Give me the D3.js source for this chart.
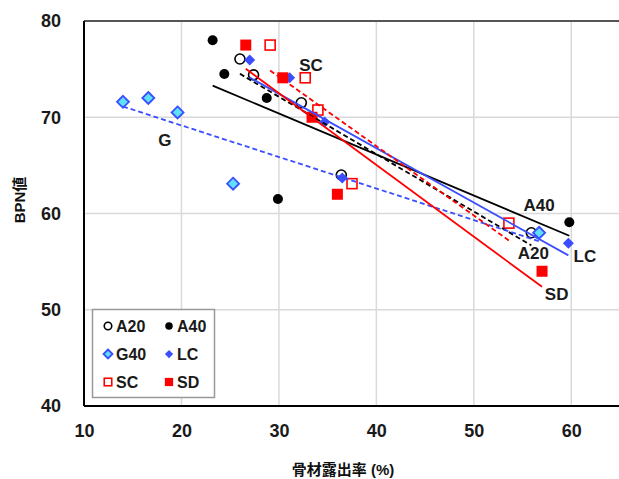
<!DOCTYPE html>
<html><head><meta charset="utf-8">
<script src="https://cdn.jsdelivr.net/npm/d3@7"></script>
<style>body{margin:0;background:#fff}svg{display:block}text{font-family:"Liberation Sans","Noto Sans CJK JP",Arial,sans-serif}</style>
</head><body><svg id="c" width="619" height="479"></svg>
<script>
// ---- data ----
const seriesNames = ["A20","A40","G40","LC","SC","SD"];
const a20X = [26.0, 27.4, 32.3, 36.4, 55.9];
const a20Y = [76.05, 74.4, 71.5, 64.0, 58.0];
const a40X = [23.2, 24.4, 28.75, 29.9, 59.8];
const a40Y = [78.0, 74.5, 72.0, 61.5, 59.1];
const g40X = [14.0, 16.6, 19.6, 25.3, 56.7];
const g40Y = [71.6, 72.0, 70.5, 63.1, 58.0];
const lcX = [27.0, 31.1, 34.7, 36.5, 59.7];
const lcY = [75.95, 74.1, 69.5, 63.7, 56.9];
const scX = [29.1, 32.7, 34.0, 37.5, 53.6];
const scY = [77.5, 74.1, 70.75, 63.1, 59.0];
const sdX = [26.6, 30.4, 33.4, 36.0, 57.0];
const sdY = [77.5, 74.1, 70.0, 62.0, 54.0];
const xTicks = [10, 20, 30, 40, 50, 60];
const yTicks = [40, 50, 60, 70, 80];
const lineLabels = [
  {t:"SC", x:33.3, y:75.4},
  {t:"G", x:18.3, y:67.6},
  {t:"A40", x:56.7, y:60.9},
  {t:"LC", x:61.4, y:55.6},
  {t:"A20", x:56.1, y:55.9},
  {t:"SD", x:58.5, y:51.6}
];

const svg = d3.select("#c");
const L = 84, R = 620, T = 21, B = 406;
const x = d3.scaleLinear().domain([10, 65]).range([L, R]);
const y = d3.scaleLinear().domain([40, 80]).range([B, T]);

// gridlines
svg.append("g").selectAll("line").data(xTicks.filter(d => d > 10)).join("line")
  .attr("x1", d => x(d)).attr("x2", d => x(d)).attr("y1", T).attr("y2", B)
  .attr("stroke", "#d9d9d9").attr("stroke-width", 1.5);
svg.append("g").selectAll("line").data(yTicks.filter(d => d > 40 && d < 80)).join("line")
  .attr("y1", d => y(d)).attr("y2", d => y(d)).attr("x1", L).attr("x2", R)
  .attr("stroke", "#d9d9d9").attr("stroke-width", 1.5);

// axes (labels only)
const xAxis = d3.axisBottom(x).tickValues(xTicks).tickSize(0).tickPadding(18);
const gx = svg.append("g").attr("transform", `translate(0,${B})`).call(xAxis);
gx.select(".domain").remove();
gx.selectAll("text").attr("font-size", 18).attr("font-weight", "bold").attr("fill", "#1a1a1a").attr("font-family", "Liberation Sans, Arial, sans-serif");
const yAxis = d3.axisLeft(y).tickValues(yTicks).tickSize(0).tickPadding(23);
const gy = svg.append("g").attr("transform", `translate(${L},0)`).call(yAxis);
gy.select(".domain").remove();
gy.selectAll("text").attr("font-size", 18).attr("font-weight", "bold").attr("fill", "#1a1a1a").attr("font-family", "Liberation Sans, Arial, sans-serif");

// frame
svg.append("line").attr("x1", L).attr("x2", R).attr("y1", T).attr("y2", T).attr("stroke", "#555").attr("stroke-width", 2);
svg.append("line").attr("x1", L).attr("x2", R).attr("y1", B).attr("y2", B).attr("stroke", "#000").attr("stroke-width", 2);
svg.append("line").attr("x1", L).attr("x2", L).attr("y1", T).attr("y2", B).attr("stroke", "#000").attr("stroke-width", 2);

// axis titles
svg.append("text").attr("x", 343).attr("y", 475).attr("text-anchor", "middle")
  .attr("font-size", 15).attr("font-weight", "bold").attr("fill", "#111")
  .attr("font-family", "Noto Sans CJK JP, sans-serif").text("骨材露出率 (%)");
svg.append("text").attr("transform", "translate(25,200) rotate(-90)").attr("text-anchor", "middle")
  .attr("font-size", 15).attr("font-weight", "bold").attr("fill", "#111")
  .attr("font-family", "Noto Sans CJK JP, sans-serif").text("BPN値");

const RED = "#ff0000", BLUE = "#3a4dff", CYAN = "#5ee0f5";
const series = [
  {name:"A20", xs:a20X, ys:a20Y, shape:"circle", fill:"#fff", stroke:"#000", line:"#000", dash:"5,3"},
  {name:"A40", xs:a40X, ys:a40Y, shape:"dot", fill:"#000", stroke:"#000", line:"#000", dash:null},
  {name:"G40", xs:g40X, ys:g40Y, shape:"diamond", fill:CYAN, stroke:BLUE, line:BLUE, dash:"5,3"},
  {name:"LC", xs:lcX, ys:lcY, shape:"sdiamond", fill:BLUE, stroke:BLUE, line:BLUE, dash:null},
  {name:"SC", xs:scX, ys:scY, shape:"square", fill:"#fff", stroke:RED, line:RED, dash:"5,3"},
  {name:"SD", xs:sdX, ys:sdY, shape:"fsquare", fill:RED, stroke:RED, line:RED, dash:null}
];

function drawMarker(g, shape, cx, cy, s, fill, stroke) {
  if (shape === "circle") g.append("circle").attr("cx", cx).attr("cy", cy).attr("r", 5*s).attr("fill", fill).attr("stroke", stroke).attr("stroke-width", 1.6);
  else if (shape === "dot") g.append("circle").attr("cx", cx).attr("cy", cy).attr("r", 5*s).attr("fill", fill);
  else if (shape === "diamond") { const h = 6*s; g.append("path").attr("d", `M${cx},${cy-h}L${cx+h},${cy}L${cx},${cy+h}L${cx-h},${cy}Z`).attr("fill", fill).attr("stroke", stroke).attr("stroke-width", 1.8); }
  else if (shape === "sdiamond") { const h = 5.5*s; g.append("path").attr("d", `M${cx},${cy-h}L${cx+h},${cy}L${cx},${cy+h}L${cx-h},${cy}Z`).attr("fill", fill); }
  else if (shape === "square") { const h = 5*s; g.append("rect").attr("x", cx-h).attr("y", cy-h).attr("width", 2*h).attr("height", 2*h).attr("fill", fill).attr("stroke", stroke).attr("stroke-width", 1.6); }
  else if (shape === "fsquare") { const h = 5.5*s; g.append("rect").attr("x", cx-h).attr("y", cy-h).attr("width", 2*h).attr("height", 2*h).attr("fill", fill); }
}

// markers
series.forEach(sr => {
  const g = svg.append("g");
  sr.xs.forEach((xv, i) => drawMarker(g, sr.shape, x(xv), y(sr.ys[i]), 1, sr.fill, sr.stroke));
});

// trend lines (least squares)
series.forEach(sr => {
  const n = sr.xs.length;
  const mx = d3.mean(sr.xs), my = d3.mean(sr.ys);
  let sxy = 0, sxx = 0;
  for (let i = 0; i < n; i++) { sxy += (sr.xs[i]-mx)*(sr.ys[i]-my); sxx += (sr.xs[i]-mx)**2; }
  const b = sxy / sxx, a = my - b*mx;
  const x0 = d3.min(sr.xs), x1 = d3.max(sr.xs);
  svg.append("line").attr("x1", x(x0)).attr("y1", y(a+b*x0)).attr("x2", x(x1)).attr("y2", y(a+b*x1))
    .attr("stroke", sr.line).attr("stroke-width", 1.8).attr("stroke-dasharray", sr.dash);
});

// line labels
svg.append("g").selectAll("text").data(lineLabels).join("text")
  .attr("x", d => x(d.x)).attr("y", d => y(d.y)).attr("dy", "0.35em").attr("text-anchor", "middle")
  .attr("font-size", 17).attr("font-family", "Lato, Liberation Sans, sans-serif").attr("font-weight", 600)
  .attr("fill", "#1a1a1a").text(d => d.t);

// legend
const lg = svg.append("g");
lg.append("rect").attr("x", 92.5).attr("y", 309.5).attr("width", 122).attr("height", 88)
  .attr("fill", "#fff").attr("stroke", "#999").attr("stroke-width", 1.5);
series.forEach((sr, i) => {
  const col = i % 2, row = Math.floor(i / 2);
  const mx = col ? 169 : 108, my = 326 + row*28;
  drawMarker(lg, sr.shape, mx, my, 0.75, sr.fill, sr.stroke);
  lg.append("text").attr("x", mx + 8).attr("y", my).attr("dy", "0.36em")
    .attr("font-size", 16).attr("font-weight", "bold").attr("fill", "#1a1a1a").text(sr.name);
});
</script></body></html>
